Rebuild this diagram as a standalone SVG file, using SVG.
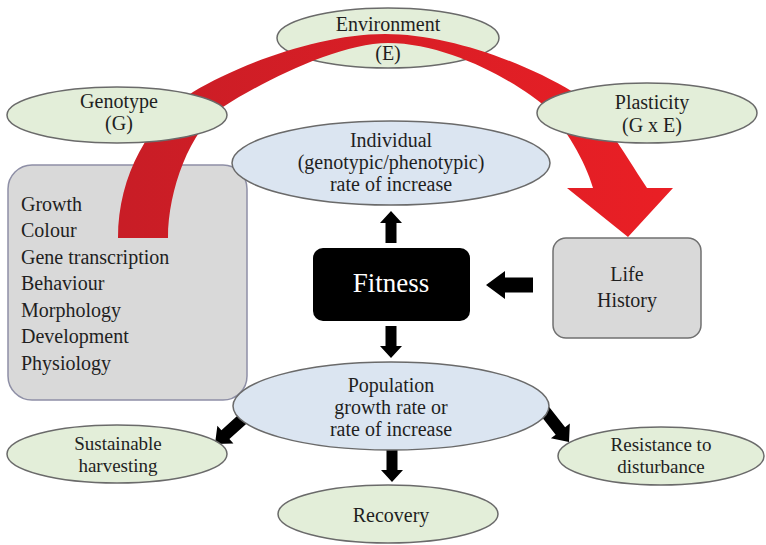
<svg xmlns="http://www.w3.org/2000/svg" width="766" height="545" viewBox="0 0 766 545">
<style>
text { font-family: "Liberation Serif", "DejaVu Serif", serif; font-size: 20px; fill: #1f1f1f; text-anchor: middle; }
.start { text-anchor: start; }
.small { font-size: 19px; }
.green { fill: #e3eed9; stroke: #6a6a6a; stroke-width: 1.5; }
.blue { fill: #dbe5f1; stroke: #6a6a6a; stroke-width: 1.5; }
.greybox { fill: #d9d9d9; stroke: #8e8fa6; stroke-width: 1.5; }
.lifebox { fill: #d9d9d9; stroke: #707070; stroke-width: 1.5; }
.blk { fill: #000000; }
.white { fill: #ffffff; font-size: 27px; }
</style>
<defs>
  <linearGradient id="redgrad" gradientUnits="userSpaceOnUse" x1="118" y1="0" x2="673" y2="0">
    <stop offset="0" stop-color="#c81d26"/>
    <stop offset="1" stop-color="#ea1f25"/>
  </linearGradient>
  <path id="arrS" d="M0,0 L-12,-11 L-12,-5.5 L-32,-5.5 L-32,5.5 L-12,5.5 L-12,11 Z"/>
  <path id="arrD" d="M0,0 L-14,-12 L-14,-6 L-44,-6 L-44,6 L-14,6 L-14,12 Z"/>
  <path id="arrL" d="M0,0 L-19,-14 L-19,-7.5 L-47,-7.5 L-47,7.5 L-19,7.5 L-19,14 Z"/>
</defs>
<rect x="0" y="0" width="766" height="545" fill="#ffffff"/>

<g id="traits" font-family="Liberation Serif, DejaVu Serif, serif">
  <rect class="greybox" x="8" y="165" width="239" height="235" rx="24" ry="24"/>
  <text class="start" x="21" y="211">Growth</text>
  <text class="start" x="21" y="237">Colour</text>
  <text class="start" x="21" y="264">Gene transcription</text>
  <text class="start" x="21" y="290">Behaviour</text>
  <text class="start" x="21" y="317">Morphology</text>
  <text class="start" x="21" y="343">Development</text>
  <text class="start" x="21" y="370">Physiology</text>
</g>

<g id="environment">
  <ellipse class="green" cx="388" cy="38" rx="111" ry="30"/>
  <text x="388" y="31">Environment</text>
  <text x="388" y="60">(E)</text>
</g>

<g id="connectors">
  <path id="curved-arrow" fill="url(#redgrad)" d="M118,238 C118,175 150,120 193,92 C240,64 320,34 385,34 C445,34 520,60 573,92 C600,110 622,150 647,188 L673,188 L628,237 L567,188 L593,188 C585,160 565,128 547,108 C520,84 450,43 388,43 C340,43 265,80 223,107 C190,130 168,190 168,238 Z"/>
  <g class="blk">
    <use href="#arrS" transform="translate(391,211) rotate(-90)"/>
    <use href="#arrS" transform="translate(391,358) rotate(90)"/>
    <use href="#arrS" transform="translate(392,482) rotate(90)"/>
    <use href="#arrL" transform="translate(486,285) rotate(180)"/>
    <use href="#arrD" transform="translate(215,444) rotate(138)"/>
    <use href="#arrD" transform="translate(569,442) rotate(52)"/>
  </g>
</g>

<g id="genotype">
  <ellipse class="green" cx="117" cy="115" rx="110" ry="28"/>
  <text x="119" y="108">Genotype</text>
  <text x="119" y="130">(G)</text>
</g>

<g id="plasticity">
  <ellipse class="green" cx="647" cy="113" rx="110" ry="30"/>
  <text x="652" y="109">Plasticity</text>
  <text x="652" y="132">(G x E)</text>
</g>

<g id="individual">
  <ellipse class="blue" cx="391" cy="163" rx="159" ry="42"/>
  <text x="391" y="147">Individual</text>
  <text x="391" y="169">(genotypic/phenotypic)</text>
  <text x="391" y="191">rate of increase</text>
</g>

<g id="fitness">
  <rect class="blk" x="313" y="248" width="157" height="73" rx="10" ry="10"/>
  <text class="white" x="391" y="292">Fitness</text>
</g>

<g id="life-history">
  <rect class="lifebox" x="553" y="238" width="148" height="100" rx="13" ry="13"/>
  <text x="627" y="281">Life</text>
  <text x="627" y="307">History</text>
</g>

<g id="population">
  <ellipse class="blue" cx="391" cy="406" rx="158" ry="44"/>
  <text x="391" y="392">Population</text>
  <text x="391" y="414">growth rate or</text>
  <text x="391" y="436">rate of increase</text>
</g>

<g id="sustainable">
  <ellipse class="green" cx="117" cy="454" rx="110" ry="29"/>
  <text class="small" x="118" y="450">Sustainable</text>
  <text class="small" x="118" y="472">harvesting</text>
</g>

<g id="recovery">
  <ellipse class="green" cx="388" cy="514" rx="110" ry="29"/>
  <text x="391" y="522">Recovery</text>
</g>

<g id="resistance">
  <ellipse class="green" cx="661" cy="456" rx="103" ry="29"/>
  <text class="small" x="661" y="451">Resistance to</text>
  <text class="small" x="661" y="473">disturbance</text>
</g>
</svg>
